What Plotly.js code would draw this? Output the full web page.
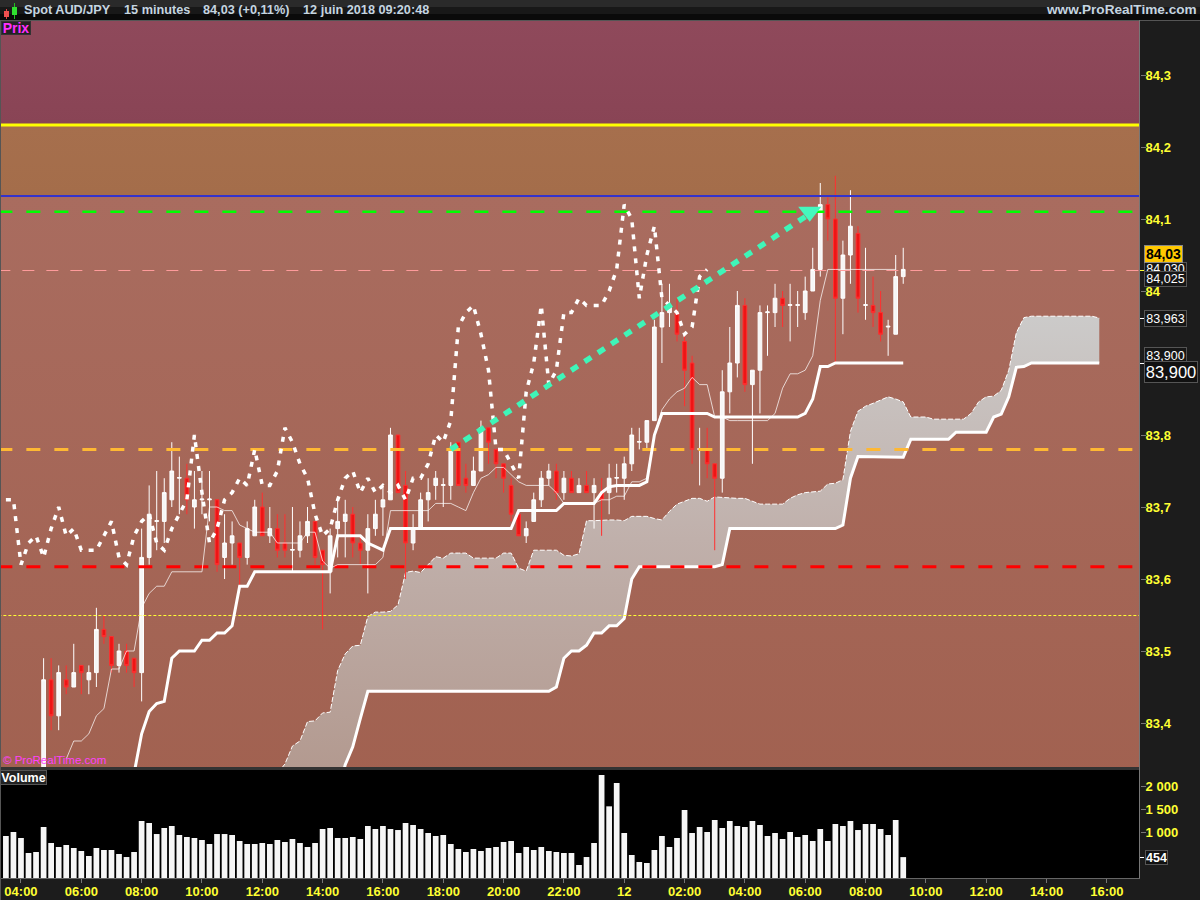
<!DOCTYPE html>
<html><head><meta charset="utf-8">
<script src="https://cdn.plot.ly/plotly-3.0.1.min.js"></script>
<style>html,body{margin:0;padding:0;background:#1c1c1c}#chart{width:1200px;height:900px}</style>
</head><body><div id="chart"></div>
<script>
// ---- candles, bar 0 = 03:30, one bar every 15 minutes ----
const opens = [null,null,null,null,null,83.30,83.46,83.41,83.46,83.45,83.48,83.46,83.47,83.53,83.52,83.48,83.50,83.49,83.47,83.63,83.68,83.68,83.71,83.74,83.74,83.70,83.71,83.71,83.71,83.63,83.65,83.65,83.63,83.66,83.70,83.66,83.67,83.65,83.64,83.64,83.66,83.68,83.64,83.61,83.67,83.68,83.69,83.65,83.64,83.67,83.70,83.71,83.80,83.73,83.65,83.67,83.71,83.73,83.73,83.73,83.79,83.74,83.73,83.75,83.81,83.78,83.76,83.73,83.69,83.66,83.68,83.71,83.74,83.75,83.72,83.74,83.72,83.73,83.72,83.72,83.72,83.74,83.74,83.76,83.79,83.79,83.82,83.95,83.97,83.97,83.93,83.90,83.78,83.78,83.76,83.74,83.86,83.90,83.98,83.87,83.89,83.97,83.97,83.99,83.98,83.98,83.97,84.00,84.03,84.12,84.10,83.99,84.05,84.08,83.98,83.98,83.97,83.95,83.94,84.02];
const highs = [null,null,null,null,null,83.49,83.49,83.48,83.48,83.51,83.48,83.48,83.56,83.55,83.52,83.51,83.51,83.49,83.67,83.73,83.75,83.74,83.79,83.77,83.76,83.75,83.75,83.75,83.71,83.69,83.68,83.65,83.68,83.71,83.72,83.70,83.69,83.69,83.70,83.68,83.70,83.68,83.64,83.67,83.71,83.71,83.70,83.66,83.69,83.71,83.73,83.81,83.80,83.75,83.69,83.72,83.74,83.75,83.74,83.79,83.79,83.76,83.77,83.82,83.81,83.78,83.76,83.74,83.69,83.68,83.72,83.75,83.76,83.76,83.75,83.75,83.74,83.75,83.74,83.74,83.76,83.76,83.77,83.81,83.81,83.82,83.96,84.01,84.01,83.99,83.94,83.91,83.81,83.81,83.76,83.89,83.95,84.00,83.99,83.89,83.98,83.98,84.01,84.00,84.01,84.00,84.02,84.06,84.15,84.13,84.16,84.07,84.14,84.09,84.06,84.02,84.00,83.96,84.05,84.06];
const lows = [null,null,null,null,null,83.30,83.39,83.39,83.44,83.45,83.44,83.44,83.45,83.51,83.47,83.47,83.47,83.45,83.43,83.62,83.64,83.65,83.70,83.69,83.69,83.67,83.69,83.68,83.61,83.60,83.62,83.59,83.62,83.66,83.66,83.65,83.63,83.63,83.61,83.63,83.65,83.62,83.53,83.58,83.63,83.63,83.63,83.62,83.58,83.66,83.66,83.71,83.72,83.60,83.64,83.67,83.68,83.71,83.70,83.71,83.73,83.72,83.73,83.75,83.76,83.74,83.72,83.68,83.66,83.65,83.68,83.70,83.73,83.71,83.71,83.72,83.72,83.72,83.67,83.66,83.69,83.72,83.71,83.75,83.78,83.78,83.82,83.90,83.95,83.93,83.84,83.76,83.73,83.74,83.64,83.72,83.83,83.88,83.86,83.76,83.83,83.91,83.95,83.95,83.93,83.95,83.96,84.00,84.02,84.07,83.90,83.94,84.01,83.97,83.96,83.95,83.93,83.91,83.94,84.01];
const closes = [null,null,null,null,null,83.46,83.41,83.47,83.45,83.47,83.47,83.47,83.53,83.52,83.48,83.50,83.48,83.47,83.63,83.69,83.681,83.72,83.75,83.741,83.71,83.71,83.711,83.711,83.62,83.65,83.66,83.63,83.67,83.70,83.66,83.67,83.64,83.64,83.641,83.66,83.68,83.63,83.62,83.66,83.68,83.69,83.65,83.64,83.67,83.69,83.71,83.80,83.72,83.65,83.67,83.71,83.72,83.74,83.731,83.78,83.73,83.73,83.75,83.81,83.79,83.76,83.74,83.69,83.66,83.67,83.71,83.74,83.75,83.72,83.74,83.72,83.73,83.72,83.73,83.71,83.74,83.741,83.76,83.80,83.791,83.82,83.95,83.97,83.98,83.94,83.89,83.78,83.781,83.76,83.74,83.86,83.90,83.98,83.87,83.89,83.97,83.971,83.99,83.98,83.981,83.981,84.00,84.03,84.12,84.10,83.99,84.05,84.09,83.99,83.981,83.97,83.94,83.951,84.02,84.03];
const volumes = [913,1000,870,543,565,1109,761,674,717,652,587,478,652,609,609,522,456,565,1239,1196,956,1087,1130,935,891,870,826,739,956,956,935,804,739,739,761,739,826,783,848,761,674,761,1065,1087,870,870,891,848,1130,1065,1130,1065,1043,1196,1152,1065,978,913,935,739,630,565,630,587,652,674,783,804,543,674,609,674,587,565,543,543,283,456,761,2239,1558,2065,978,500,348,326,609,913,674,870,1478,978,1109,1000,1261,1087,1239,1130,1109,1239,1152,913,978,848,1000,891,935,804,1065,804,1174,1130,1239,1043,1174,1174,1065,935,1261,454];

// ---- ichimoku lines ----
const tenkanStart = 8;
const tenkan = [83.35,83.375,83.375,83.385,83.41,83.42,83.475,83.475,83.50,83.50,83.56,83.58,83.59,83.59,83.61,83.61,83.61,83.61,83.61,83.70,83.70,83.695,83.695,83.675,83.67,83.665,83.665,83.665,83.65,83.65,83.65,83.65,83.665,83.665,83.625,83.615,83.62,83.62,83.62,83.62,83.62,83.62,83.63,83.695,83.695,83.695,83.695,83.695,83.695,83.705,83.705,83.705,83.70,83.695,83.72,83.74,83.745,83.755,83.755,83.745,83.735,83.73,83.73,83.73,83.73,83.72,83.705,83.705,83.705,83.705,83.705,83.71,83.71,83.715,83.715,83.735,83.735,83.74,83.80,83.835,83.85,83.86,83.865,83.88,83.87,83.87,83.825,83.825,83.82,83.82,83.82,83.82,83.82,83.82,83.83,83.865,83.885,83.885,83.89,83.91,83.987,84.03,84.03,84.03,84.03,84.03,84.03,84.03,84.03,84.03,84.03];
const kijunStart = 17;
const kijun = [83.33,83.385,83.416,83.427,83.43,83.49,83.50,83.50,83.50,83.515,83.515,83.525,83.525,83.535,83.59,83.59,
  83.61,83.61,83.61,83.61,83.61,83.61,83.61,83.61,83.61,83.61,83.61,
  83.66,83.66,83.66,83.66,83.65,83.645,83.64,
  83.67,83.67,83.67,83.67,83.67,83.67,83.67,83.67,83.67,83.67,83.67,83.67,83.67,83.67,83.67,83.67,83.67,
  83.695,83.695,83.695,83.695,83.695,83.695,
  83.705,83.705,83.705,83.705,83.705,
  83.72,83.728,83.73,83.73,83.73,83.73,83.735,83.80,
  83.83,83.83,83.83,83.83,83.83,83.83,83.83,
  83.825,83.825,83.825,83.825,83.825,83.825,83.825,83.825,83.825,83.825,83.825,83.825,
  83.83,83.85,83.895,83.895,
  83.90,83.90,83.90,83.90,83.90,83.90,83.90,83.90,83.90,83.90];
const chikou = [83.71,83.71,83.62,83.65,83.66,83.63,83.67,83.70,83.66,83.67,83.64,83.64,83.64,83.66,83.68,83.63,83.62,83.66,83.68,83.69,83.65,83.64,83.67,83.69,83.71,83.80,83.72,83.65,83.67,83.71,83.72,83.74,83.73,83.78,83.73,83.73,83.75,83.81,83.79,83.76,83.74,83.69,83.66,83.67,83.71,83.74,83.75,83.72,83.74,83.72,83.73,83.72,83.73,83.71,83.74,83.74,83.76,83.80,83.79,83.82,83.95,83.97,83.98,83.94,83.89,83.78,83.78,83.76,83.74,83.86,83.90,83.98,83.87,83.89,83.97,83.97,83.99,83.98,83.98,83.98,84.00,84.03,84.12,84.10,83.99,84.05,84.09,83.99,83.98,83.97,83.94,83.95,84.02,84.03];
const cloudStart = 36;
const cloudUpper = [83.33,83.343,83.368,83.375,83.402,83.403,83.414,83.415,83.473,83.496,83.507,83.508,83.548,83.554,83.554,83.555,83.564,83.609,83.611,83.609,83.62,83.631,83.629,83.636,83.636,83.636,83.629,83.629,83.629,83.629,83.636,83.636,83.615,83.611,83.64,83.64,83.64,83.64,83.633,83.632,83.635,83.681,83.681,83.682,83.682,83.682,83.681,83.687,83.687,83.687,83.684,83.682,83.694,83.704,83.708,83.712,83.712,83.708,83.714,83.713,83.712,83.712,83.712,83.708,83.704,83.704,83.704,83.704,83.712,83.717,83.72,83.721,83.722,83.732,83.733,83.738,83.805,83.833,83.84,83.844,83.849,83.853,83.85,83.846,83.825,83.825,83.825,83.822,83.822,83.822,83.822,83.822,83.83,83.846,83.853,83.854,83.862,83.89,83.942,83.963,83.965,83.965,83.965,83.965,83.965,83.965,83.965,83.965,83.965,83.9625];
const cloudLower = [83.30,83.30,83.30,83.30,83.30,83.30,83.30,83.30,83.30,83.342,83.367,83.406,83.444,83.444,83.444,83.444,83.444,83.444,83.444,83.444,83.444,83.444,83.444,83.444,83.444,83.444,83.444,83.444,83.444,83.444,83.444,83.444,83.444,83.444,83.444,83.444,83.444,83.45,83.49,83.50,83.50,83.508,83.525,83.525,83.535,83.535,83.545,83.60,83.617,83.617,83.617,83.617,83.617,83.617,83.617,83.617,83.617,83.617,83.617,83.62,83.67,83.67,83.67,83.67,83.67,83.67,83.67,83.67,83.67,83.67,83.67,83.67,83.67,83.67,83.67,83.675,83.74,83.77,83.77,83.77,83.77,83.77,83.77,83.769,83.794,83.794,83.794,83.794,83.794,83.794,83.804,83.804,83.804,83.804,83.804,83.825,83.829,83.853,83.894,83.895,83.90,83.90,83.90,83.90,83.90,83.90,83.90,83.90,83.90,83.90];

// ---- levels ----
const levelTopBand = 84.2306, levelBlue = 84.132, levelGreen = 84.11, levelLast = 84.0285;
const levelOrange = 83.78, levelRed = 83.617, levelThin = 83.5493;
const arrowBars = [59, 107], arrowPrices = [83.78, 84.11];
const arrowHeadBar = [106.6], arrowHeadPrice = [84.11];

// ---- axes ----
const priceTicks = [83.4,83.5,83.6,83.7,83.8,84,84.1,84.2,84.3];
const priceLabels = ['83,4','83,5','83,6','83,7','83,8','84','84,1','84,2','84,3'];
const volumeTicks = [1000,1500,2000], volumeLabels = ['1 000','1 500','2 000'];
const timeTicks = [2,10,18,26,34,42,50,58,66,74,82,90,98,106,114,122,130,138,146];
const timeLabels = ['04:00','06:00','08:00','10:00','12:00','14:00','16:00','18:00','20:00','22:00','12','02:00','04:00','06:00','08:00','10:00','12:00','14:00','16:00'];
const priceRange = [83.3389, 84.3764], barRange = [-0.782, 150.4];

const seq = (start, n) => Array.from({length:n}, (_, k) => start + k);
const bars = seq(0, volumes.length);
const F = 'Liberation Sans, Arial, sans-serif';

function band(lo, hi, c0, c1){
  return {type:'scatter', mode:'lines', x:[-2,152,152,-2,-2], y:[lo,lo,hi,hi,lo], xaxis:'x', yaxis:'y',
    fill:'toself', line:{width:0}, hoverinfo:'skip',
    fillgradient:{type:'vertical', start:lo, stop:hi, colorscale:[[0,c0],[1,c1]]}};
}
function level(y, color, width, dash){
  return {type:'scatter', mode:'lines', x:[-1,151], y:[y,y], xaxis:'x', yaxis:'y3', hoverinfo:'skip',
    line:{color:color, width:width, dash:dash}};
}
const traces = [
  band(83.30, levelBlue, '#A16150', '#A96C5F'),
  band(levelBlue, levelTopBand, '#A46D4A', '#A66F4D'),
  band(levelTopBand, 84.40, '#894455', '#904A5C'),
  {type:'scatter', mode:'lines', x:seq(cloudStart, cloudLower.length), y:cloudLower, xaxis:'x', yaxis:'y',
   line:{color:'#ffffff', width:3}, hoverinfo:'skip'},
  {type:'scatter', mode:'lines', x:seq(cloudStart, cloudUpper.length), y:cloudUpper, xaxis:'x', yaxis:'y',
   line:{color:'#ffffff', width:1, dash:'5px,2px'}, hoverinfo:'skip', fill:'tonexty',
   fillgradient:{type:'vertical', start:83.34, stop:83.97, colorscale:[[0,'#B39A90'],[0.5,'#C0B0AB'],[1,'#CCCBCA']]}},
  {type:'candlestick', x:bars, open:opens, high:highs, low:lows, close:closes, xaxis:'x', yaxis:'y2', hoverinfo:'skip',
   increasing:{line:{color:'#ffffff', width:1}, fillcolor:'#F6F6F6'},
   decreasing:{line:{color:'#FF3030', width:1}, fillcolor:'#EE1515'}},
  level(levelTopBand, '#FFFF00', 3, 'solid'),
  level(levelBlue, '#3333CC', 2, 'solid'),
  level(levelGreen, '#00FF00', 2.5, '14px,14px'),
  level(levelLast, '#FF9C9C', 1, '12px,12px'),
  level(levelOrange, '#FFB833', 3, '14px,14px'),
  level(levelRed, '#FF0000', 3, '14px,14px'),
  level(levelThin, '#FFFF33', 1, '3px,2px'),
  {type:'scatter', mode:'lines', x:seq(tenkanStart, tenkan.length), y:tenkan, xaxis:'x', yaxis:'y3', hoverinfo:'skip',
   line:{color:'rgba(255,255,255,0.72)', width:1}},
  {type:'scatter', mode:'lines', x:seq(kijunStart, kijun.length), y:kijun, xaxis:'x', yaxis:'y3', hoverinfo:'skip',
   line:{color:'#ffffff', width:3}},
  {type:'scatter', mode:'lines', x:seq(0, chikou.length), y:chikou, xaxis:'x', yaxis:'y3', hoverinfo:'skip',
   line:{color:'#ffffff', width:3.5, dash:'5px,7px'}},
  {type:'scatter', mode:'lines', x:arrowBars, y:arrowPrices, xaxis:'x', yaxis:'y3', hoverinfo:'skip',
   line:{color:'#3FF5B8', width:5.5, dash:'8px,8px'}},
  {type:'scatter', mode:'markers', x:arrowHeadBar, y:arrowHeadPrice, xaxis:'x', yaxis:'y3', hoverinfo:'skip',
   marker:{symbol:'triangle-down', size:20, color:'#45F8BE', line:{width:0}}},
  {type:'bar', x:bars, y:volumes, xaxis:'x', yaxis:'y4', width:0.76, hoverinfo:'skip',
   marker:{color:'#F6F6F6', line:{width:0}}}
];

const px = v => v/1200, py = v => 1 - v/900;
function rect(x0,y0,x1,y1,fill,line){
  return {type:'rect', xref:'paper', yref:'paper', x0:px(x0), x1:px(x1), y0:py(y0), y1:py(y1),
          fillcolor:fill, line:{width:line?1:0, color:line||fill}, layer:'above'};
}
function hline(x0,x1,y,color){
  return {type:'line', xref:'paper', yref:'paper', x0:px(x0), x1:px(x1), y0:py(y), y1:py(y), line:{width:1,color:color}, layer:'above'};
}
function vline(x,y0,y1,color){
  return {type:'line', xref:'paper', yref:'paper', x0:px(x), x1:px(x), y0:py(y0), y1:py(y1), line:{width:1,color:color}, layer:'above'};
}
function label(text,x,y,size,color,anchor,weight){
  return {xref:'paper', yref:'paper', x:px(x), y:py(y), text:text, showarrow:false, xanchor:anchor||'left', yanchor:'middle',
    font:{family:F, size:size, color:color, weight:weight||700}, borderpad:0, borderwidth:0};
}
function tag(text,x0,y0,x1,y1,size,bg,color,border,weight){
  return {xref:'paper', yref:'paper', x:px((x0+x1)/2), y:py((y0+y1)/2), text:text, showarrow:false,
    xanchor:'center', yanchor:'middle', width:x1-x0-2, height:y1-y0-2, bgcolor:bg, bordercolor:border||'#555555', borderwidth:1, borderpad:0,
    font:{family:F, size:size, color:color, weight:weight||400}};
}

const shapes = [
  rect(0,0,1200,7,'#2A2A2A'), rect(0,7,1200,14,'#181818'), rect(0,14,1200,20,'#0A0A0A'),
  hline(0,1200,20.5,'#555555'),
  rect(0,767,1140,770,'#333333'),
  hline(0,1140,878.5,'#666666'),
  vline(0.5,20,900,'#555555'),
  vline(1139.5,20,878,'#777777'),
  // header icon
  vline(6.5,9,19,'#E04040'), rect(4,11,9,17,'#F05050'),
  vline(14.5,3,19,'#20C020'), rect(12,7,17,15,'#30E030'),
  // tag ticks
  hline(1140,1144,270.5,'#FFFF33'), hline(1140,1144,318.5,'#ffffff'), hline(1140,1144,363.5,'#ffffff'), hline(1140,1144,857.5,'#ffffff')
];

const annotations = [
  label('Spot AUD/JPY',24,10,12.7,'#C5D5E0'),
  label('15 minutes',124,10,12.7,'#C5D5E0'),
  label('84,03 (+0,11%)',203,10,12.7,'#C5D5E0'),
  label('12 juin 2018 09:20:48',303,10,12.7,'#C5D5E0'),
  label('www.ProRealTime.com',1197,10,13.6,'#C5D5E0','right'),
  tag('Prix',1,21,31,35,14,'#222222','#FF30FF','#333333',700),
  label('© ProRealTime.com',3,760,11.5,'#FF40FF','left',400),
  tag('Volume',0,770,47,785,12.5,'#222222','#ffffff','#555555',700),
  tag('84,030',1144,262,1187,275,12.5,'#161616','#ffffff'),
  tag('84,025',1144,271,1187,287,12.5,'#161616','#ffffff'),
  tag('84,03',1144,245,1183,263,14,'#FFC800','#000000','#888888',700),
  tag('83,963',1144,310,1187,327,12.5,'#161616','#ffffff'),
  tag('83,900',1144,347,1187,364,12.5,'#161616','#ffffff'),
  tag('83,900',1144,361,1198,383,16.5,'#111111','#ffffff'),
  tag('454',1145,850,1168,865,12.5,'#111111','#ffffff',null,700)
];

const tickFont = {family:F, size:13, color:'#FFFF33', weight:700};
const layout = {
  width:1200, height:900, margin:{l:0,r:0,t:0,b:0,pad:0}, showlegend:false, hovermode:false, dragmode:false,
  paper_bgcolor:'#1C1C1C', plot_bgcolor:'#000000', bargap:0.24,
  xaxis:{domain:[0,0.95], range:barRange, anchor:'y4', rangeslider:{visible:false}, showgrid:false, zeroline:false, showline:false,
    tickmode:'array', tickvals:timeTicks, ticktext:timeLabels, ticks:'outside', ticklen:4, tickcolor:'#777777', tickfont:tickFont, tickangle:0, ticklabelstandoff:-3},
  yaxis:{domain:[1-767/900, 1-20/900], range:priceRange, anchor:'x', side:'right', showgrid:false, zeroline:false, showline:false,
    tickmode:'array', tickvals:priceTicks, ticktext:priceLabels, ticks:'outside', ticklen:5, tickcolor:'#777777', tickfont:tickFont, ticklabelstandoff:-3},
  yaxis2:{domain:[1-767/900, 1-20/900], range:priceRange, overlaying:'y', anchor:'x', side:'right', visible:false},
  yaxis3:{domain:[1-767/900, 1-20/900], range:priceRange, overlaying:'y', anchor:'x', side:'right', visible:false},
  yaxis4:{domain:[1-878/900, 1-770/900], range:[0,2348], anchor:'x', side:'right', showgrid:false, zeroline:false, showline:false,
    tickmode:'array', tickvals:volumeTicks, ticktext:volumeLabels, ticks:'outside', ticklen:5, tickcolor:'#777777', tickfont:tickFont, ticklabelstandoff:-3},
  shapes:shapes, annotations:annotations
};
Plotly.newPlot('chart', traces, layout, {staticPlot:true, displayModeBar:false});
</script></body></html>
